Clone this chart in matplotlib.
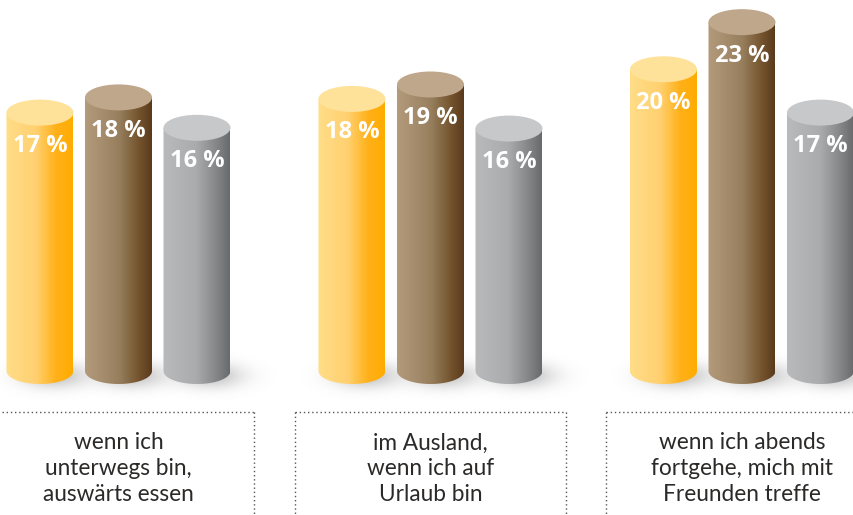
import matplotlib
matplotlib.use('Agg')
import matplotlib.pyplot as plt
import numpy as np
from matplotlib.colors import LinearSegmentedColormap
from matplotlib.patches import Ellipse, PathPatch
from matplotlib.path import Path

categories = ["wenn ich\nunterwegs bin,\nauswärts essen",
              "im Ausland,\nwenn ich auf\nUrlaub bin",
              "wenn ich abends\nfortgehe, mich mit\nFreunden treffe"]
yellow_vals = [17, 18, 20]
brown_vals = [18, 19, 23]
grey_vals = [16, 16, 17]
# drawn heights differ a little from the printed percentages
yellow_heights = [17.0, 17.9, 19.85]
brown_heights = [18.0, 18.85, 22.95]
grey_heights = [16.0, 15.95, 17.0]

PX_PER_PCT = 15.2
BASE_PX = 371
GROUP_X = [40, 352, 663.5]
BAR_STEP = 78.5
RADIUS = 33.5
RY = 13 / PX_PER_PCT

fig = plt.figure(figsize=(8.54, 5.15), dpi=100)
ax = fig.add_axes([0, 0, 1, 1])
ylim = ((BASE_PX - 515) / PX_PER_PCT, BASE_PX / PX_PER_PCT)


def ypx(py):
    return (BASE_PX - py) / PX_PER_PCT


def cylinder(xc, h, side, top):
    # soft shadow first, falling to the lower right
    xs = np.linspace(xc - 70, xc + 100, 140)
    ys = np.linspace(-3.2, 2.6, 110)
    xx, yy = np.meshgrid(xs, ys)
    a = 0.36 * np.exp(-((xx - xc - 14) / 31) ** 2 - ((yy + 0.3) / 0.8) ** 2)
    shadow = np.zeros(xx.shape + (4,))
    shadow[..., :3] = 0.35
    shadow[..., 3] = a
    ax.imshow(shadow, extent=[xs[0], xs[-1], ys[0], ys[-1]], origin='lower',
              aspect='auto', zorder=1, interpolation='bilinear')

    cmap = LinearSegmentedColormap.from_list('side', side)
    grad = np.linspace(0, 1, 128).reshape(1, -1)
    im = ax.imshow(grad, extent=[xc - RADIUS, xc + RADIUS, -RY, h], cmap=cmap,
                   aspect='auto', zorder=2, interpolation='bilinear')
    t = np.linspace(np.pi, 2 * np.pi, 60)
    verts = [(xc - RADIUS, h)] + list(zip(xc + RADIUS * np.cos(t), RY * np.sin(t))) + [(xc + RADIUS, h), (xc - RADIUS, h)]
    clip = PathPatch(Path(verts), transform=ax.transData, fc='none', ec='none')
    ax.add_patch(clip)
    im.set_clip_path(clip)
    ax.add_patch(Ellipse((xc, h), 2 * RADIUS, 2 * RY, fc=top, ec='none', zorder=3))


yellow_side = [(0, '#ffdd88'), (0.45, '#ffd070'), (0.75, '#ffb11a'), (1, '#ffac00')]
brown_side = [(0, '#b39a7b'), (0.5, '#98805f'), (0.8, '#75552f'), (1, '#5a3a1c')]
grey_side = [(0, '#b9babb'), (0.5, '#aaabac'), (0.8, '#848688'), (1, '#686a6c')]
styles = [(yellow_heights, yellow_vals, yellow_side, '#ffe299'),
          (brown_heights, brown_vals, brown_side, '#bfa78c'),
          (grey_heights, grey_vals, grey_side, '#c7c8ca')]

for s, (heights, vals, side, top) in enumerate(styles):
    for g in range(3):
        xc = GROUP_X[g] + s * BAR_STEP
        cylinder(xc, heights[g], side, top)
        ax.annotate("{} %".format(vals[g]), (xc, heights[g]), xytext=(0, -33.5 * 0.72),
                    textcoords='offset points', ha='center', va='center', color='white',
                    fontsize=17, fontweight='bold', family='Open Sans', zorder=4)

for g in range(3):
    ax.text(GROUP_X[g] + BAR_STEP, ypx(468.5), categories[g], ha='center', va='center',
            fontsize=16.3, family='Lato', color='#2b2a29', linespacing=1.27, zorder=4)

# dotted frames round the captions
frames = [(2, 254, False, True), (295, 566, True, True), (606, 854, True, False)]
for left, right, has_left, has_right in frames:
    ax.plot([left, right], [ypx(411.5)] * 2, color='#555555', lw=1.0, ls=(0, (1, 2)), zorder=2)
    if has_left:
        ax.plot([left, left], [ypx(411.5), ypx(515)], color='#555555', lw=1.0, ls=(0, (1, 2)), zorder=2)
    if has_right:
        ax.plot([right, right], [ypx(411.5), ypx(515)], color='#555555', lw=1.0, ls=(0, (1, 2)), zorder=2)

ax.set_xlim(0, 854)
ax.set_ylim(*ylim)
ax.axis('off')
fig.savefig('out.png', dpi=100)
